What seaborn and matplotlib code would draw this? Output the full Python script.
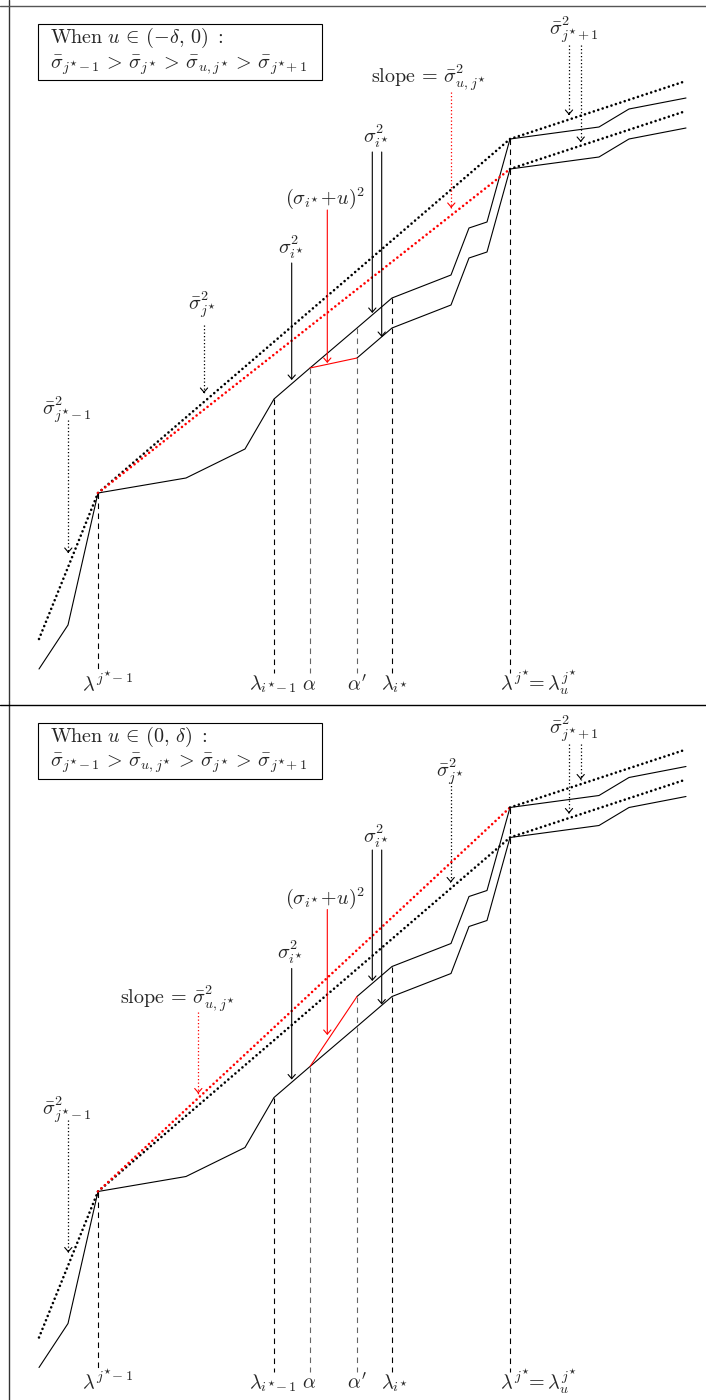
import matplotlib
matplotlib.use("Agg")
import matplotlib.pyplot as plt
import seaborn as sns
from matplotlib.patches import Rectangle

sns.set_theme(style="white")
plt.rcParams["mathtext.fontset"] = "cm"
plt.rcParams["font.family"] = ["DejaVu Serif"]

# breakpoints of the piecewise-linear curve (x, height)
curve_x = [39, 68, 98, 186, 245, 274, 310, 357, 392, 451, 469, 487, 510, 599, 629, 686]
curve_h = [31, 75, 207, 222, 251, 301, 332, 372, 402, 425, 472, 478, 561, 573, 591, 602]
shift = 30          # jump of the curve after alpha' caused by u
i_alpha = 6         # index of alpha in curve_x
i_alpha_p = 7       # index of alpha'

# slope (tangent) lines
left_line_x = [39, 98]
left_line_h = [61, 207]
right_line_x = [510, 686]
right_line_h = [561, 619]

# vertical marks on the x axis
mark_x = [98, 274, 310, 357, 392, 510]
mark_idx = [2, 5, 6, 7, 8, 12]
mark_grey = [False, False, True, True, False, False]
mark_labels = [r"$\lambda^{j^{\star}\!-1}$", r"$\lambda_{i^{\star}\!-1}$", r"$\alpha$",
               r"$\alpha'$", r"$\lambda_{i^{\star}}$",
               r"$\lambda^{j^{\star}}\!\!=\lambda_u^{j^{\star}}$"]
mark_label_x = [108, 273, 309, 357, 394, 539]
base_h = 27

GT = r"\,>\,"
boxes = [
    (r"$\mathrm{When}\ u\,\in\,(-\delta,\, 0)\ :$",
     r"$\bar{\sigma}_{j^{\star}\!-1}" + GT + r"\bar{\sigma}_{j^{\star}}" + GT
     + r"\bar{\sigma}_{u,j^{\star}}" + GT + r"\bar{\sigma}_{j^{\star}\!+1}$"),
    (r"$\mathrm{When}\ u\,\in\,(0,\, \delta)\ :$",
     r"$\bar{\sigma}_{j^{\star}\!-1}" + GT + r"\bar{\sigma}_{u,j^{\star}}" + GT
     + r"\bar{\sigma}_{j^{\star}}" + GT + r"\bar{\sigma}_{j^{\star}\!+1}$"),
]

s_jm1 = r"$\bar{\sigma}^2_{j^{\star}\!-1}$"
s_j = r"$\bar{\sigma}^2_{j^{\star}}$"
s_jp1 = r"$\bar{\sigma}^2_{j^{\star}\!+1}$"
s_i = r"$\sigma^2_{i^{\star}}$"
s_iu = r"$(\sigma_{i^{\star}}\!+\!u)^2$"
s_slope = r"$\mathrm{slope}\,=\,\bar{\sigma}^2_{u,j^{\star}}$"

# (x, y, text) and (x, from, to, colour, dotted)
labels_top = [(67, 290, s_jm1), (202, 395, s_j), (291, 453, s_i), (325, 502, s_iu),
              (376, 564, s_i), (429, 622, s_slope), (574, 670, s_jp1)]
arrows_top = [(68.3, 280, 147, "k", True), (204, 375, 307, "k", True),
              (291.7, 437, 320, "k", False), (327.3, 490, 337, "r", False),
              (372.3, 548, 387, "k", False), (381.7, 548, 363, "k", False),
              (451.3, 608, 492, "r", True), (569, 655, 585, "k", True),
              (580.7, 655, 558, "k", True)]
labels_bot = [(67, 289, s_jm1), (177.5, 400, s_slope), (290, 446, s_i), (325, 500.5, s_iu),
              (376, 562.5, s_i), (450, 627, s_j), (574, 670, s_jp1)]
arrows_bot = [(68.3, 279, 146, "k", True), (198.3, 387, 305, "r", True),
              (291.7, 430, 319, "k", False), (327.3, 489, 363.5, "r", False),
              (372.3, 548.5, 417.5, "k", False), (381.7, 548.5, 394, "k", False),
              (450.7, 617, 516, "k", True), (569, 655, 585, "k", True),
              (580.7, 655, 619, "k", True)]

RED = "#ff0000"
DOTS = (0, (0.01, 1.75))
FS = 14.5


def arrow(ax, x, h0, h1, color, dotted):
    color = RED if color == "r" else "black"
    head = dict(arrowstyle="->,head_length=0.3,head_width=0.26", color=color,
                lw=0.8, shrinkA=0, shrinkB=0, mutation_scale=10)
    if dotted:
        ax.plot([x, x], [h0, h1], color=color, lw=0.9, ls=(0, (1, 1.8)))
        ax.annotate("", xy=(x, h1), xytext=(x, h1 + 1), arrowprops=head)
    else:
        ax.annotate("", xy=(x, h1), xytext=(x, h0), arrowprops=head)


def draw_panel(ax, sign, labels, arrows, box):
    pert_h = [h + sign * shift for h in curve_h]
    # original and perturbed curves
    sns.lineplot(x=curve_x, y=curve_h, ax=ax, color="black", lw=0.8,
                 sort=False, estimator=None)
    sns.lineplot(x=curve_x[i_alpha_p:], y=pert_h[i_alpha_p:], ax=ax, color="black",
                 lw=0.8, sort=False, estimator=None)
    ax.plot([curve_x[i_alpha], curve_x[i_alpha_p]], [curve_h[i_alpha], pert_h[i_alpha_p]],
            color=RED, lw=0.8)

    # slope lines
    kw = dict(lw=1.9, ls=DOTS, dash_capstyle="round")
    ax.plot(left_line_x, left_line_h, color="black", **kw)
    ax.plot([98, 510], [207, 561], color="black", **kw)
    ax.plot([98, 510], [207, 561 + sign * shift], color=RED, **kw)
    ax.plot(right_line_x, right_line_h, color="black", **kw)
    ax.plot(right_line_x, [h + sign * shift for h in right_line_h], color="black", **kw)

    # dashed verticals + labels
    for x, i, grey, lab, lx in zip(mark_x, mark_idx, mark_grey, mark_labels, mark_label_x):
        top = max(curve_h[i], pert_h[i]) if i >= i_alpha_p else curve_h[i]
        ax.plot([x, x], [top, base_h], color="#666666" if grey else "black",
                lw=0.8, ls=(0, (5, 4)))
        ax.text(lx, 10, lab, ha="center", va="baseline", fontsize=FS)

    for x, y, t in labels:
        ax.text(x, y, t, ha="center", va="center", fontsize=FS)
    for a in arrows:
        arrow(ax, *a)

    ax.add_patch(Rectangle((38.3, 620), 283.4, 56, fill=False, ec="black", lw=0.8))
    ax.text(50, 662, box[0], ha="left", va="center", fontsize=FS)
    ax.text(50, 635, box[1], ha="left", va="center", fontsize=FS)
    ax.axvline(8.5, color="#333333", lw=1)
    ax.set_xlim(0, 706)
    ax.axis("off")


fig = plt.figure(figsize=(7.06, 14.0), dpi=100)
ax_top = fig.add_axes([0, 0.5, 1, 0.5])
ax_bot = fig.add_axes([0, 0, 1, 0.5])

draw_panel(ax_top, -1, labels_top, arrows_top, boxes[0])
ax_top.set_ylim(0, 700)
ax_top.axhline(694, color="#555555", lw=1)

draw_panel(ax_bot, 1, labels_bot, arrows_bot, boxes[1])
ax_bot.set_ylim(-1.5, 698.5)
ax_bot.axhline(693.5, color="black", lw=1)

fig.savefig("out.png", dpi=100)
